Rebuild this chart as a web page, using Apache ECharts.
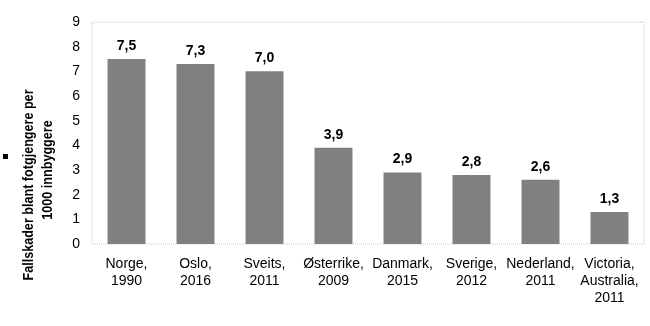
<!DOCTYPE html>
<html>
<head>
<meta charset="utf-8">
<script src="https://cdn.jsdelivr.net/npm/echarts@6/dist/echarts.min.js"></script>
<style>
  html, body { margin: 0; padding: 0; background: #fff; }
  #chart { width: 650px; height: 326px; }
</style>
</head>
<body>
<div id="chart"></div>
<script>
// Fall injuries among pedestrians per 1000 inhabitants, by place and year
const categories = [
  'Norge,\n1990', 'Oslo,\n2016', 'Sveits,\n2011', 'Østerrike,\n2009',
  'Danmark,\n2015', 'Sverige,\n2012', 'Nederland,\n2011', 'Victoria,\nAustralia,\n2011'
];
const injuries = [7.5, 7.3, 7.0, 3.9, 2.9, 2.8, 2.6, 1.3];
const yTicks = [0, 1, 2, 3, 4, 5, 6, 7, 8, 9];
const yTitle = ['Fallskader blant fotgjengere per', '1000 innbyggere'];

const font = '"Liberation Sans", Arial, sans-serif';
const chart = echarts.init(document.getElementById('chart'), null, { renderer: 'canvas' });

// rotated y-axis title, one text element per line
const titleStyle = {
  fill: '#000',
  font: 'bold 12.6px ' + font,
  align: 'center',
  verticalAlign: 'middle'
};

chart.setOption({
  animation: false,
  grid: {
    left: 92, right: 6, top: 22, bottom: 82,
    show: true,
    borderColor: '#c8c8c8',
    borderWidth: 1,
    borderType: 'dotted'
  },
  xAxis: {
    type: 'category',
    data: categories,
    axisLine: { show: false },
    axisTick: { show: false },
    axisLabel: {
      interval: 0,
      margin: 12,
      color: '#000',
      fontFamily: font,
      fontSize: 14,
      lineHeight: 17
    }
  },
  yAxis: {
    type: 'value',
    min: yTicks[0],
    max: yTicks[yTicks.length - 1],
    interval: 1,
    axisLine: { show: false },
    axisTick: { show: false },
    splitLine: { show: false },
    axisLabel: {
      margin: 12,
      color: '#000',
      fontFamily: font,
      fontSize: 14
    }
  },
  series: [{
    type: 'bar',
    data: injuries,
    barWidth: '55%',
    itemStyle: { color: '#808080' },
    label: {
      show: true,
      position: 'top',
      distance: 6,
      color: '#000',
      fontFamily: font,
      fontSize: 14,
      fontWeight: 'bold',
      formatter: p => p.value.toFixed(1).replace('.', ',')
    }
  }],
  graphic: [
    {
      type: 'text',
      x: 29, y: 185,
      rotation: Math.PI / 2,
      scaleY: 1.2,
      style: Object.assign({ text: yTitle[0] }, titleStyle)
    },
    {
      type: 'text',
      x: 48, y: 170,
      rotation: Math.PI / 2,
      scaleY: 1.2,
      style: Object.assign({ text: yTitle[1] }, titleStyle)
    },
    {
      type: 'rect',
      left: 3, top: 154,
      shape: { width: 5, height: 5 },
      style: { fill: '#000' }
    }
  ]
});
</script>
</body>
</html>
